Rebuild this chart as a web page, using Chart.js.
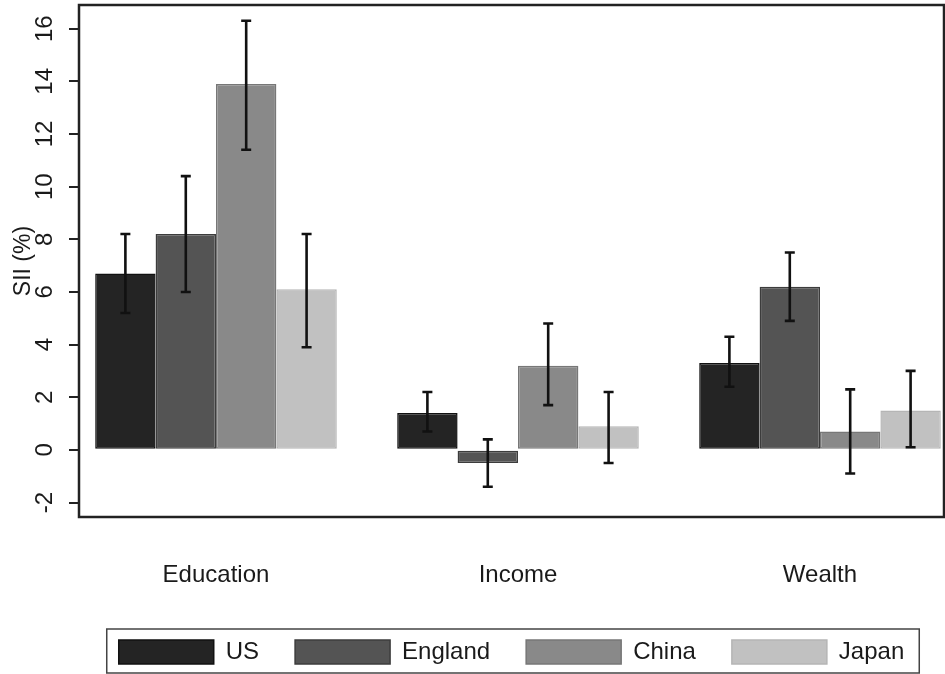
<!DOCTYPE html>
<html>
<head>
<meta charset="utf-8">
<script src="https://cdn.jsdelivr.net/npm/chart.js@4.4.1/dist/chart.umd.min.js"></script>
<style>
  body { margin: 0; background: #fff; }
  canvas { display: block; }
</style>
</head>
<body>
<canvas id="chart1" width="945" height="674"></canvas>
<script>
// groups on the x axis and the four countries
var categories = ['Education', 'Income', 'Wealth'];
var countries = ['US', 'England', 'China', 'Japan'];

// SII (%) point estimates, order = categories
var usValues      = [6.7, 1.4, 3.3];
var englandValues = [8.2, -0.5, 6.2];
var chinaValues   = [13.9, 3.2, 0.7];
var japanValues   = [6.1, 0.9, 1.5];

// confidence intervals (low / high)
var usLow       = [5.2, 0.7, 2.4];
var usHigh      = [8.2, 2.2, 4.3];
var englandLow  = [6.0, -1.4, 4.9];
var englandHigh = [10.4, 0.4, 7.5];
var chinaLow    = [11.4, 1.7, -0.9];
var chinaHigh   = [16.3, 4.8, 2.3];
var japanLow    = [3.9, -0.5, 0.1];
var japanHigh   = [8.2, 2.2, 3.0];

var fills   = ['#242424', '#545454', '#898989', '#c1c1c1'];
var borders = ['#111111', '#3c3c3c', '#777777', '#b5b5b5'];
var textColor = '#1a1a1a';
var font = { family: "'Liberation Sans', Arial, sans-serif", size: 24 };

var values = [usValues, englandValues, chinaValues, japanValues];
var lows   = [usLow, englandLow, chinaLow, japanLow];
var highs  = [usHigh, englandHigh, chinaHigh, japanHigh];

var datasets = countries.map(function (name, d) {
    return {
        label: name,
        data: values[d].map(function (v, i) { return { x: i, y: v }; }),
        backgroundColor: fills[d],
        borderColor: borders[d],
        borderWidth: 1.5,
        borderSkipped: false
    };
});

// whiskers drawn from the bar elements and the y scale
var errorBars = {
    id: 'errorBars',
    afterDatasetsDraw: function (chart) {
        var ctx = chart.ctx, y = chart.scales.y;
        ctx.save();
        ctx.strokeStyle = '#111';
        ctx.lineWidth = 2.6;
        chart.data.datasets.forEach(function (ds, d) {
            chart.getDatasetMeta(d).data.forEach(function (bar, i) {
                var top = y.getPixelForValue(highs[d][i]);
                var bot = y.getPixelForValue(lows[d][i]);
                ctx.beginPath();
                ctx.moveTo(bar.x, top); ctx.lineTo(bar.x, bot);
                ctx.moveTo(bar.x - 5, top); ctx.lineTo(bar.x + 5, top);
                ctx.moveTo(bar.x - 5, bot); ctx.lineTo(bar.x + 5, bot);
                ctx.stroke();
            });
        });
        ctx.restore();
    }
};

// plot frame + box around legend
var frames = {
    id: 'frames',
    afterDraw: function (chart) {
        var ctx = chart.ctx, a = chart.chartArea;
        ctx.save();
        ctx.strokeStyle = '#222';
        ctx.lineWidth = 2.5;
        ctx.strokeRect(a.left, a.top, a.right - a.left, a.bottom - a.top);
        var hb = chart.legend.legendHitBoxes;
        if (hb && hb.length) {
            var l = hb[0].left - 12, r = hb[hb.length - 1].left + hb[hb.length - 1].width + 15;
            var t = hb[0].top - 11, b = hb[0].top + hb[0].height + 9;
            ctx.lineWidth = 1.5;
            ctx.strokeStyle = '#444';
            ctx.strokeRect(l, t, r - l, b - t);
        }
        ctx.restore();
    }
};

var config = {
    type: 'bar',
    data: { datasets: datasets },
    options: {
        responsive: false,
        animation: false,
        layout: { padding: { top: 5, left: 0, right: 1, bottom: 0 } },
        datasets: { bar: { categoryPercentage: 0.8, barPercentage: 1.0 } },
        plugins: {
            tooltip: { enabled: false },
            legend: {
                position: 'bottom',
                fullSize: false,
                labels: {
                    boxWidth: 95,
                    boxHeight: 24,
                    padding: 36,
                    font: font,
                    color: textColor
                }
            }
        },
        scales: {
            x: {
                type: 'linear',
                offset: false,
                min: -0.4536,
                max: 2.4106,
                grid: { display: false, drawTicks: false, offset: false },
                border: { display: false },
                ticks: {
                    stepSize: 1,
                    includeBounds: false,
                    autoSkip: false,
                    maxRotation: 0,
                    padding: 44,
                    font: font,
                    color: textColor,
                    callback: function (v) { return categories[v] !== undefined ? categories[v] : ''; }
                },
                afterFit: function (s) {
                    s.height = 87;
                    s.paddingLeft = 0;
                    s.paddingRight = 0;
                }
            },
            y: {
                min: -2.55,
                max: 16.9,
                grid: { drawOnChartArea: false, tickLength: 10, color: '#222', lineWidth: 2 },
                border: { display: false },
                ticks: {
                    stepSize: 2,
                    includeBounds: false,
                    minRotation: 90,
                    maxRotation: 90,
                    crossAlign: 'center',
                    padding: 10,
                    font: font,
                    color: textColor
                },
                title: {
                    display: true,
                    text: 'SII (%)',
                    font: { family: font.family, size: 23 },
                    color: textColor,
                    padding: { top: 10, bottom: 0 }
                },
                afterFit: function (s) {
                    s.width = 79;
                    s.paddingTop = 0;
                    s.paddingBottom = 0;
                }
            }
        }
    },
    plugins: [errorBars, frames]
};

var chart1 = new Chart(document.getElementById('chart1'), config);
</script>
</body>
</html>
